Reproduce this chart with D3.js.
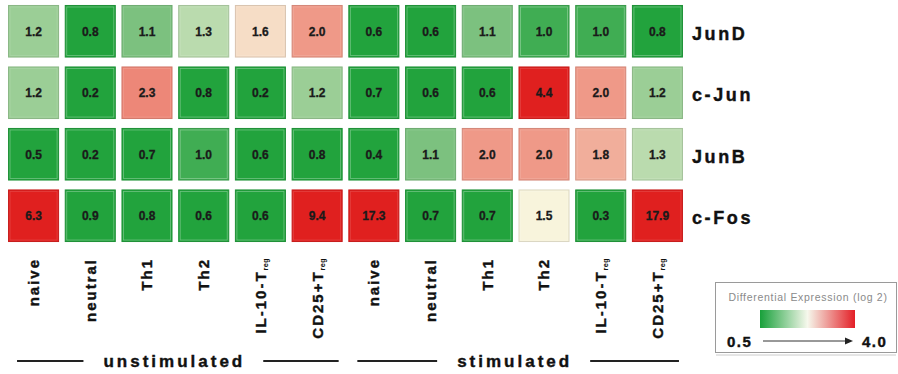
<!DOCTYPE html>
<html><head><meta charset="utf-8">
<script src="https://cdn.jsdelivr.net/npm/d3@7"></script>
<style>body{margin:0;background:#fff}text{font-family:"Liberation Sans",Arial,sans-serif}</style>
</head><body>
<script>
const genes = ["JunD", "c-Jun", "JunB", "c-Fos"];
const conditions = ["unstimulated", "stimulated"];
const cellTypes = ["naive", "neutral", "Th1", "Th2", "IL-10-Treg", "CD25+Treg"];
const junD = [1.2, 0.8, 1.1, 1.3, 1.6, 2.0, 0.6, 0.6, 1.1, 1.0, 1.0, 0.8];
const cJun = [1.2, 0.2, 2.3, 0.8, 0.2, 1.2, 0.7, 0.6, 0.6, 4.4, 2.0, 1.2];
const junB = [0.5, 0.2, 0.7, 1.0, 0.6, 0.8, 0.4, 1.1, 2.0, 2.0, 1.8, 1.3];
const cFos = [6.3, 0.9, 0.8, 0.6, 0.6, 9.4, 17.3, 0.7, 0.7, 1.5, 0.3, 17.9];
const legendTicks = [0.5, 4.0];
const legendTitle = "Differential Expression (log 2)";

const rows = [junD, cJun, junB, cFos];
const W = 898, H = 374;
const svg = d3.select("body").append("svg").attr("width", W).attr("height", H);
svg.append("rect").attr("width", W).attr("height", H).attr("fill", "#fff");

const colKeys = conditions.flatMap(c => cellTypes.map(t => c + "|" + t));
const x = d3.scaleBand().domain(colKeys).range([5.2, 685.8]).paddingInner(0.1).paddingOuter(0.05);
const y = d3.scaleBand().domain(genes).range([1.9, 245.1]).paddingInner(0.145).paddingOuter(0.05);

const color = d3.scaleLinear()
  .domain([0.95, 1.1, 1.5, 1.85, 4.0])
  .range(["#22a33d", "#7cc17f", "#f8f4dc", "#f0a290", "#e0201f"])
  .interpolate(d3.interpolateRgb).clamp(true);

const cells = [];
genes.forEach((g, i) => rows[i].forEach((v, j) => cells.push({ gene: g, col: colKeys[j], v })));

const cg = svg.append("g").selectAll("g").data(cells).join("g");
cg.append("rect")
  .attr("x", d => x(d.col) + 0.5).attr("y", d => y(d.gene) + 0.5)
  .attr("width", x.bandwidth() - 1).attr("height", y.bandwidth() - 1)
  .attr("fill", d => color(d.v))
  .attr("stroke", d => d3.color(color(d.v)).darker(0.35))
  .attr("stroke-width", 1);
cg.append("rect")
  .attr("x", d => x(d.col) + 2).attr("y", d => y(d.gene) + 2)
  .attr("width", x.bandwidth() - 4).attr("height", y.bandwidth() - 4)
  .attr("fill", "none").attr("stroke", "#fff").attr("stroke-opacity", d => d.v < 1.1 ? 0.35 : 0.15)
  .attr("stroke-width", 0.8);
cg.append("text")
  .attr("x", d => x(d.col) + x.bandwidth() / 2)
  .attr("y", d => y(d.gene) + y.bandwidth() / 2)
  .attr("dy", "0.36em").attr("text-anchor", "middle")
  .attr("font-size", 12).attr("font-weight", "bold").attr("fill", "#1a1a1a")
  .attr("stroke", "#1a1a1a").attr("stroke-width", 0.3)
  .text(d => d3.format(".1f")(d.v));

// row labels
svg.append("g").selectAll("text").data(genes).join("text")
  .attr("x", 692).attr("y", d => y(d) + y.bandwidth() / 2 + 2)
  .attr("dy", "0.36em").attr("font-size", 18).attr("font-weight", "bold")
  .attr("letter-spacing", 2.6).attr("fill", "#111").attr("stroke", "#111").attr("stroke-width", 0.4).text(d => d);

// column labels
const cl = svg.append("g").selectAll("text").data(colKeys).join("text")
  .attr("transform", d => `translate(${x(d) + x.bandwidth() / 2},258) rotate(-90)`)
  .attr("text-anchor", "end").attr("dy", "0.36em")
  .attr("font-size", 15).attr("font-weight", "bold").attr("letter-spacing", 2).attr("fill", "#111")
  .attr("stroke", "#111").attr("stroke-width", 0.4);
cl.each(function (d) {
  const name = d.split("|")[1];
  const t = d3.select(this);
  if (name.endsWith("Treg")) {
    t.append("tspan").text(name.slice(0, -3));
    t.append("tspan").attr("font-size", 7).attr("letter-spacing", 0.5).attr("stroke-width", 0.1).attr("dy", "0.3em").text("reg");
  } else t.text(name);
});

// group labels
conditions.forEach(c => {
  const keys = colKeys.filter(k => k.startsWith(c + "|"));
  const g0 = x(keys[0]) + 0, g1 = x(keys[keys.length - 1]) + x.bandwidth();
  const cx = (g0 + g1) / 2 - 1;
  const t = svg.append("text").attr("x", cx).attr("y", 367).attr("text-anchor", "middle")
    .attr("font-size", 17).attr("font-weight", "bold").attr("letter-spacing", 3).attr("fill", "#111")
    .attr("stroke", "#111").attr("stroke-width", 0.4).text(c);
  const tw = t.node().getComputedTextLength();
  svg.append("line").attr("x1", g0 + 9).attr("x2", cx - tw / 2 - 20).attr("y1", 361).attr("y2", 361)
    .attr("stroke", "#222").attr("stroke-width", 2);
  svg.append("line").attr("x1", cx + tw / 2 + 18).attr("x2", g1 - 4).attr("y1", 361).attr("y2", 361)
    .attr("stroke", "#222").attr("stroke-width", 2);
});

// legend
const lg = svg.append("g");
lg.append("rect").attr("x", 715.5).attr("y", 282.5).attr("width", 181).attr("height", 70)
  .attr("fill", "#fff").attr("stroke", "#9a9a9a");
lg.append("line").attr("x1", 716).attr("x2", 896).attr("y1", 355).attr("y2", 355).attr("stroke", "#ccc");
lg.append("text").attr("x", 808).attr("y", 301).attr("text-anchor", "middle")
  .attr("font-size", 10.5).attr("letter-spacing", 0.7).attr("fill", "#8a8a8a").text(legendTitle);
const defs = svg.append("defs");
const grad = defs.append("linearGradient").attr("id", "lgGrad");
const legColor = d3.scaleLinear().domain([0, 0.5, 1]).range(["#18a03a", "#f6f8ec", "#e31e26"]);
d3.range(0, 1.01, 0.1).forEach(o => grad.append("stop").attr("offset", o).attr("stop-color", legColor(o)));
lg.append("rect").attr("x", 760).attr("y", 310).attr("width", 95).attr("height", 18).attr("fill", "url(#lgGrad)");
const fmt = d3.format(".1f");
lg.append("text").attr("x", 727).attr("y", 347).attr("font-size", 15).attr("font-weight", "bold")
  .attr("letter-spacing", 1.5).attr("fill", "#111").attr("stroke", "#111").attr("stroke-width", 0.4).text(fmt(legendTicks[0]));
lg.append("text").attr("x", 862).attr("y", 347).attr("font-size", 15).attr("font-weight", "bold")
  .attr("letter-spacing", 1.5).attr("fill", "#111").attr("stroke", "#111").attr("stroke-width", 0.4).text(fmt(legendTicks[1]));
lg.append("line").attr("x1", 763).attr("x2", 846).attr("y1", 341).attr("y2", 341).attr("stroke", "#333").attr("stroke-width", 1);
lg.append("path").attr("d", "M845,337.5 L853,341 L845,344.5 Z").attr("fill", "#222");
</script>
</body></html>
